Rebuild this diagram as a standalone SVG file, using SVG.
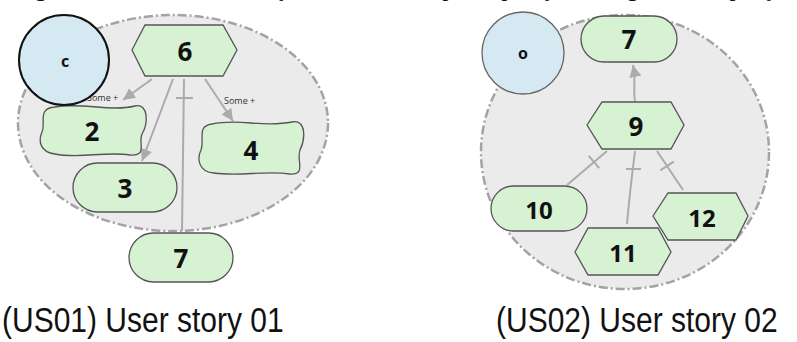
<svg xmlns="http://www.w3.org/2000/svg" width="797" height="342" viewBox="0 0 797 342">
  <style>
    .zone { fill: #ebebeb; stroke: #a3a3a3; stroke-width: 2.5; stroke-dasharray: 9 3 2 3; }
    .node { fill: #d6f2d3; stroke: #555; stroke-width: 1.3; }
    .actor { fill: #d5e9f2; }
    .num { font-family: "Open Sans", "Liberation Sans", sans-serif; font-weight: bold; font-size: 26px; fill: #111; text-anchor: middle; dominant-baseline: central; }
    .small { font-family: "Open Sans", "Liberation Sans", sans-serif; font-size: 9px; fill: #333; }
    .edge { fill: none; stroke: #ababab; stroke-width: 2; }
    .tick { stroke: #ababab; stroke-width: 2; }
    .story { font-family: "Liberation Sans", "Helvetica", sans-serif; font-size: 30px; fill: #111; }
    .caption { font-family: "Liberation Serif", serif; font-weight: bold; font-size: 17px; fill: #111; }
  </style>
  <defs>
    <marker id="arrow" markerUnits="userSpaceOnUse" markerWidth="13" markerHeight="12" refX="12" refY="6" orient="auto">
      <path d="M0,0 L12,6 L0,12 z" fill="#ababab"/>
    </marker>
  </defs>

  <rect width="797" height="342" fill="#fff"/>

  <!-- caption line above the figure; only its lowest strokes fall inside the frame -->
  <text class="caption" x="18" y="-3" textLength="775" lengthAdjust="spacingAndGlyphs">Figura 4: Visão da transformação do modelo M, após a aplicação das regras de composição</text>

  <!-- ===== US01 ===== -->
  <ellipse id="us01-zone" class="zone" cx="173" cy="123" rx="155" ry="108"/>

  <g id="us01-edges">
    <line class="edge" x1="152" y1="79" x2="123" y2="100" marker-end="url(#arrow)"/>
    <line class="edge" x1="173" y1="79" x2="142" y2="161" marker-end="url(#arrow)"/>
    <line class="edge" x1="205" y1="79" x2="233" y2="121" marker-end="url(#arrow)"/>
    <line class="edge" x1="184" y1="79" x2="182" y2="231"/>
    <line class="tick" x1="176" y1="98" x2="193" y2="98"/>
    <text class="small" x="87" y="101">Some +</text>
    <text class="small" x="224" y="104">Some +</text>
  </g>

  <g id="n6">
    <polygon class="node" points="132,50 145,25 223,25 237,50 223,76 145,76"/>
    <text class="num" x="185" y="51">6</text>
  </g>
  <g id="n2">
    <path class="node" d="M55,107 C80,102 110,112 135,106 C149,103 148,124 142,134 C138,143 148,156 130,155 C105,151 80,159 55,154 C40,152 38,141 42,132 C46,123 37,108 55,107 Z"/>
    <text class="num" x="92" y="131">2</text>
  </g>
  <g id="n4">
    <path class="node" d="M212,124 C240,118 262,128 292,122 C307,119 305,140 300,150 C296,160 307,175 290,174 C265,170 240,177 214,173 C198,172 197,158 201,150 C205,140 196,126 212,124 Z"/>
    <text class="num" x="251" y="150">4</text>
  </g>
  <g id="n3">
    <rect class="node" x="73" y="163" width="104" height="49" rx="24.5"/>
    <text class="num" x="125" y="188">3</text>
  </g>
  <g id="n7a">
    <rect class="node" x="129" y="233" width="104" height="49" rx="24.5"/>
    <text class="num" x="181" y="258">7</text>
  </g>
  <g id="actor-c">
    <circle class="actor" cx="64" cy="60" r="45" stroke="#111" stroke-width="2"/>
    <text class="num" x="65" y="61" style="font-size:16px">c</text>
  </g>

  <!-- ===== US02 ===== -->
  <ellipse id="us02-zone" class="zone" cx="625" cy="152" rx="144" ry="137"/>

  <g id="us02-edges">
    <path class="edge" d="M635,101 C633,90 636,80 633,65" marker-end="url(#arrow)"/>
    <line class="edge" x1="607" y1="151" x2="567" y2="185"/>
    <line class="tick" x1="588.8" y1="155.9" x2="599.2" y2="168.1"/>
    <path class="edge" d="M635,151 C632,175 629,200 627,224"/>
    <line class="tick" x1="626" y1="169" x2="641" y2="169"/>
    <line class="edge" x1="657" y1="151" x2="683" y2="190"/>
    <line class="tick" x1="660.3" y1="170.4" x2="673.7" y2="161.6"/>
  </g>

  <g id="n7b">
    <rect class="node" x="581" y="16" width="96" height="46" rx="23"/>
    <text class="num" x="629" y="39">7</text>
  </g>
  <g id="n9">
    <polygon class="node" points="587,125 602,102 671,102 684,125 671,149 602,149"/>
    <text class="num" x="636" y="126">9</text>
  </g>
  <g id="n10">
    <rect class="node" x="491" y="186" width="96" height="45" rx="22.5"/>
    <text class="num" x="539" y="209" style="font-size:24px">10</text>
  </g>
  <g id="n12">
    <polygon class="node" points="653,216 668,193 736,193 748,216 736,240 668,240"/>
    <text class="num" x="702" y="217" style="font-size:24px">12</text>
  </g>
  <g id="n11">
    <polygon class="node" points="575,252 588,228 658,228 671,252 658,275 588,275"/>
    <text class="num" x="623" y="252" style="font-size:24px">11</text>
  </g>
  <g id="actor-o">
    <circle class="actor" cx="523" cy="53" r="41" stroke="#666" stroke-width="1.3"/>
    <text class="num" x="523" y="53" style="font-size:16px">o</text>
  </g>

  <!-- story titles, set slightly tall and narrow -->
  <text class="story" transform="translate(2,332) scale(1,1.15)">(US01) User story 01</text>
  <text class="story" transform="translate(496,332) scale(1,1.15)">(US02) User story 02</text>
</svg>
